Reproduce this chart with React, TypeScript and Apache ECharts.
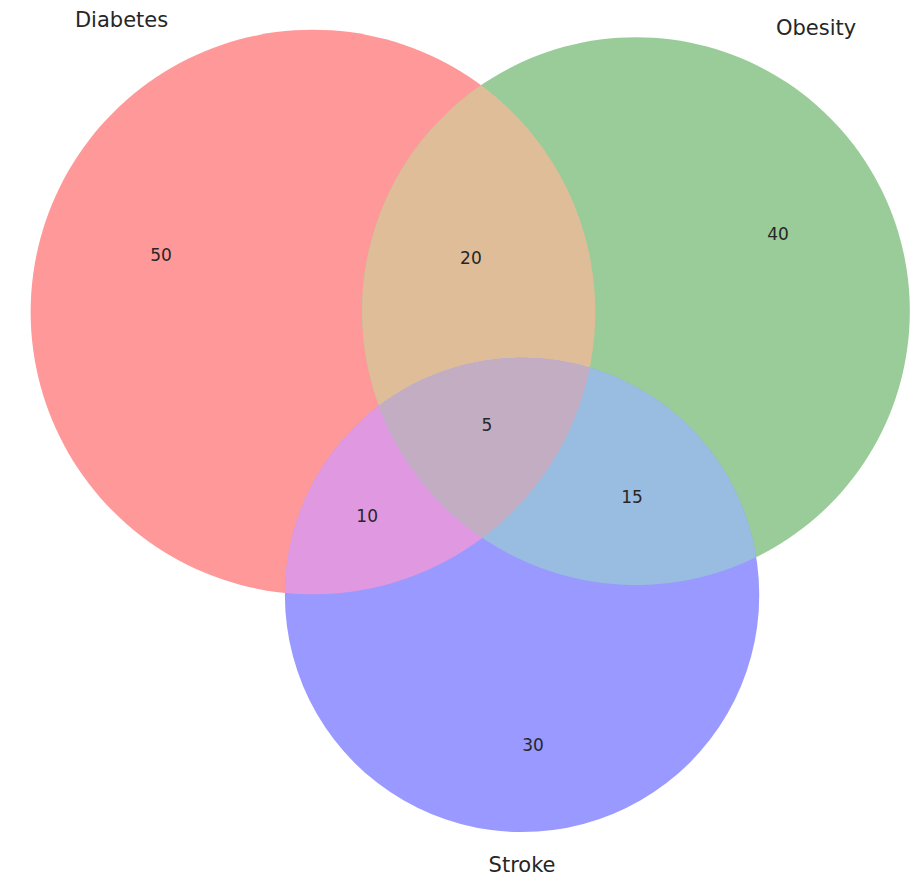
import React, { useEffect, useRef } from "react";
import * as echarts from "echarts";

// ---- data ----
const setNames = ["Diabetes", "Obesity", "Stroke"];
// region membership keys (Diabetes, Obesity, Stroke)
const regionKeys = ["100", "010", "001", "110", "101", "011", "111"];
const regionValues = [50, 40, 30, 20, 10, 15, 5];

// ---- layout (layout units; circle radius = sqrt(set total)) ----
const circleCenters = [
  [10.22, 10.19],
  [20.77, 10.16],
  [17.05, 19.43],
];
const setLabelPos = [
  [3.97, 0.65],
  [26.65, 0.91],
  [17.05, 28.25],
];
const regionLabelPos = [
  [5.26, 8.33],
  [25.41, 7.64],
  [17.41, 24.33],
  [15.38, 8.43],
  [11.99, 16.85],
  [20.64, 16.23],
  [15.9, 13.88],
];
const regionColors = ["#ff9999", "#99cc99", "#9999ff", "#e0bd99", "#e099e0", "#99bde0", "#c2adc2"];

const X_MAX = 30.046;
const Y_MAX = 28.772;

const setTotals = setNames.map((_, i) =>
  regionKeys.reduce((s, k, j) => (k[i] === "1" ? s + regionValues[j] : s), 0)
);
const setRadii = setTotals.map((t) => Math.sqrt(t));

type C = { x: number; y: number; r: number };

function circleInter(a: C, b: C): number[][] {
  const dx = b.x - a.x, dy = b.y - a.y;
  const d = Math.hypot(dx, dy);
  if (d > a.r + b.r || d < Math.abs(a.r - b.r) || d === 0) return [];
  const aa = (a.r * a.r - b.r * b.r + d * d) / (2 * d);
  const h = Math.sqrt(Math.max(0, a.r * a.r - aa * aa));
  const bx = a.x + (aa * dx) / d, by = a.y + (aa * dy) / d;
  return [
    [bx - (h * dy) / d, by + (h * dx) / d],
    [bx + (h * dy) / d, by - (h * dx) / d],
  ];
}

function intersectionPolygon(circles: C[]): number[][] {
  const pts: number[][] = [];
  const inside = (p: number[], skip: number[]) =>
    circles.every((c, j) => skip.indexOf(j) >= 0 || Math.hypot(p[0] - c.x, p[1] - c.y) <= c.r + 0.3);
  const N = 1440;
  circles.forEach((c, i) => {
    for (let k = 0; k < N; k++) {
      const t = (2 * Math.PI * k) / N;
      const p = [c.x + c.r * Math.cos(t), c.y + c.r * Math.sin(t)];
      if (inside(p, [i])) pts.push(p);
    }
  });
  for (let i = 0; i < circles.length; i++)
    for (let j = i + 1; j < circles.length; j++)
      circleInter(circles[i], circles[j]).forEach((p) => {
        if (inside(p, [i, j])) pts.push(p);
      });
  let mx = 0, my = 0;
  pts.forEach((p) => { mx += p[0]; my += p[1]; });
  mx /= pts.length; my /= pts.length;
  pts.sort((p, q) => Math.atan2(p[1] - my, p[0] - mx) - Math.atan2(q[1] - my, q[0] - mx));
  return pts;
}

export default function App() {
  const ref = useRef<HTMLDivElement>(null);
  useEffect(() => {
    document.body.style.margin = "0";
    if (!ref.current) return;
    const chart = echarts.init(ref.current, null, { renderer: "svg" });

    const regionData = regionKeys.map((k, i) => [i, ...circleCenters[k.indexOf("1")]]);
    const labelData = [
      ...regionValues.map((v, i) => [regionLabelPos[i][0], regionLabelPos[i][1], String(v), 17]),
      ...setNames.map((n, i) => [setLabelPos[i][0], setLabelPos[i][1], n, 21]),
    ];

    chart.setOption({
      animation: false,
      backgroundColor: "#ffffff",
      grid: { left: 0, right: 0, top: 0, bottom: 0 },
      xAxis: { type: "value", min: 0, max: X_MAX, show: false },
      yAxis: { type: "value", min: 0, max: Y_MAX, inverse: true, show: false },
      series: [
        {
          type: "custom",
          coordinateSystem: "cartesian2d",
          clip: false,
          silent: true,
          data: regionData,
          renderItem: (params: any, api: any) => {
            const idx = api.value(0);
            const key = regionKeys[idx];
            const circles: C[] = [];
            for (let s = 0; s < 3; s++) {
              if (key[s] === "1") {
                const c = api.coord(circleCenters[s]);
                const r = api.size([setRadii[s], 0])[0];
                circles.push({ x: c[0], y: c[1], r });
              }
            }
            if (circles.length === 1) {
              return {
                type: "circle",
                shape: { cx: circles[0].x, cy: circles[0].y, r: circles[0].r },
                style: { fill: regionColors[idx] },
              };
            }
            return {
              type: "polygon",
              shape: { points: intersectionPolygon(circles) },
              style: { fill: regionColors[idx] },
            };
          },
        },
        {
          type: "custom",
          coordinateSystem: "cartesian2d",
          clip: false,
          silent: true,
          data: labelData,
          renderItem: (params: any, api: any) => {
            const item = labelData[params.dataIndex];
            const p = api.coord([item[0], item[1]]);
            return {
              type: "text",
              x: p[0],
              y: p[1],
              style: {
                text: item[2],
                fill: "#262626",
                fontSize: item[3],
                fontFamily: "DejaVu Sans",
                align: "center",
                verticalAlign: "middle",
              },
            };
          },
        },
      ],
    });
    return () => chart.dispose();
  }, []);
  return <div ref={ref} style={{ width: 920, height: 881 }} />;
}
